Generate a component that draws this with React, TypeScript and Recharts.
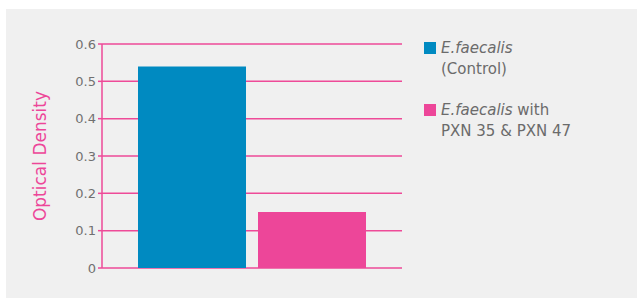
import { Bar, BarChart, CartesianGrid, XAxis, YAxis, Label } from "recharts";

const categories = ["E.faecalis"];
const controlValues = [0.54];
const treatedValues = [0.15];
const yTicks = [0, 0.1, 0.2, 0.3, 0.4, 0.5, 0.6];
const legendItalic = ["E.faecalis", "E.faecalis"];
const legendRest = ["", " with"];
const legendSecond = ["(Control)", "PXN 35 & PXN 47"];

const BLUE = "#008ac1";
const PINK = "#ed4699";
const GRID = "#ee4a98";
const FONT = "'DejaVu Sans', sans-serif";

const data = categories.map((c, i) => ({ name: c, control: controlValues[i], treated: treatedValues[i] }));
const colors = [BLUE, PINK];

function LegendBox() {
  return (
    <div style={{ fontFamily: FONT, fontSize: 15, color: "#6b6b6b", lineHeight: "21px" }}>
      {colors.map((c, i) => (
        <div key={i} style={{ display: "flex", marginBottom: i === 0 ? 20 : 0 }}>
          <div style={{ width: 12, height: 12, background: c, marginTop: 4, marginRight: 5, flexShrink: 0 }} />
          <div>
            <div>
              <i>{legendItalic[i]}</i>
              {legendRest[i]}
            </div>
            <div>{legendSecond[i]}</div>
          </div>
        </div>
      ))}
    </div>
  );
}

export default function App() {
  return (
    <div style={{ position: "absolute", left: 0, top: 0, width: 637, height: 298, background: "#fff" }}>
      <div style={{ position: "absolute", left: 6, top: 9, width: 631, height: 289, background: "#f0f0f0" }} />
      <div style={{ position: "absolute", left: 0, top: 0 }}>
        <BarChart
          width={637}
          height={298}
          data={data}
          margin={{ top: 44, right: 235, left: 0, bottom: 30 }}
          barCategoryGap={36}
          barGap={12}
        >
          <CartesianGrid horizontal vertical={false} stroke={GRID} strokeWidth={1.5} />
          <XAxis dataKey="name" hide />
          <YAxis
            width={102}
            domain={[0, 0.6]}
            ticks={yTicks}
            tickFormatter={(v: number) => (v === 0 ? "0" : String(v))}
            axisLine={{ stroke: GRID, strokeWidth: 1.5 }}
            tickLine={{ stroke: GRID, strokeWidth: 1.5 }}
            tickSize={4}
            tickMargin={2}
            tick={{ fill: "#707070", fontSize: 13, fontFamily: FONT }}
          >
            <Label
              content={({ viewBox }: any) => (
                <text
                  x={viewBox.x + 40}
                  y={viewBox.y + viewBox.height / 2}
                  transform={`rotate(-90, ${viewBox.x + 40}, ${viewBox.y + viewBox.height / 2})`}
                  textAnchor="middle"
                  dominantBaseline="central"
                  fill={PINK}
                  fontSize={17}
                  fontFamily={FONT}
                >
                  Optical Density
                </text>
              )}
            />
          </YAxis>
          <Bar dataKey="control" fill={BLUE} isAnimationActive={false} />
          <Bar dataKey="treated" fill={PINK} isAnimationActive={false} />
        </BarChart>
      </div>
      <div style={{ position: "absolute", left: 424, top: 38 }}>
        <LegendBox />
      </div>
    </div>
  );
}
